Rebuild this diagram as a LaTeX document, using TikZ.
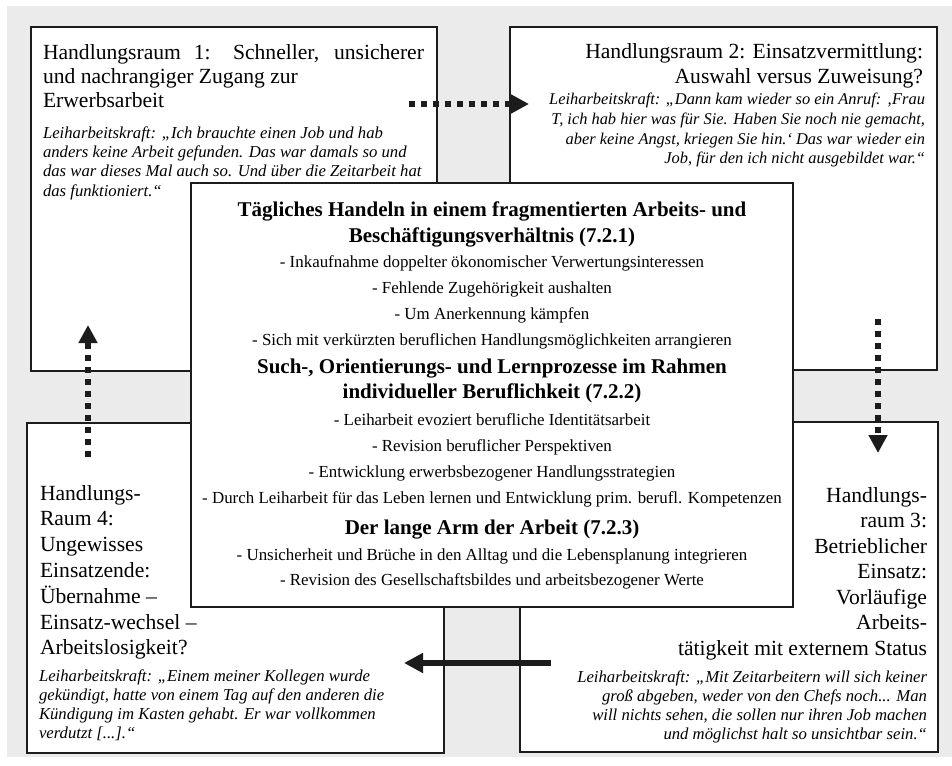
\documentclass[tikz,border=0pt]{standalone}
\usepackage{fontspec}
\setmainfont{Liberation Serif}
\usetikzlibrary{arrows.meta}
\definecolor{bggrey}{HTML}{EBEBEB}
\definecolor{ink}{HTML}{1C1C1C}
\newcommand{\tdots}{...}
\tikzset{
  frame/.style={draw=ink, line width=2.8pt, fill=white, inner sep=0pt, outer sep=0pt, anchor=north west},
  head/.style={font=\fontsize{21.6}{25}\selectfont, inner sep=0pt, outer sep=0pt},
  quote/.style={font=\fontsize{16.7}{19}\selectfont\itshape, inner sep=0pt, outer sep=0pt},
  quotesm/.style={font=\fontsize{16.4}{19}\selectfont\itshape, inner sep=0pt, outer sep=0pt},
  citem/.style={font=\fontsize{16.9}{20}\selectfont, inner sep=0pt, anchor=base},
  cbold/.style={font=\fontsize{21}{26}\selectfont\bfseries, inner sep=0pt, anchor=base},
  dotarrow/.style={draw=ink, line width=6pt, dash pattern=on 6pt off 6pt, -{Triangle[length=18pt,width=18pt]}},
  solidarrow/.style={draw=ink, line width=6.5pt, -{Triangle[length=19pt,width=19pt]}}
}
\begin{document}
\begin{tikzpicture}[x=1pt,y=-1pt]
\useasboundingbox (0,0) rectangle (952,765);
\fill[bggrey] (7,6) rectangle (952,757);
% outer boxes
\node[frame, minimum width=406pt, minimum height=344pt] (b1) at (31,27) {};
\node[frame, minimum width=427pt, minimum height=343pt] (b2) at (510,27) {};
\node[frame, minimum width=418pt, minimum height=330pt] (b3) at (520,422) {};
\node[frame, minimum width=417pt, minimum height=330pt] (b4) at (27,423) {};
% box 1
\foreach \s [count=\i from 0] in {{\makebox[381pt][s]{Handlungsraum 1: Schneller, unsicherer}},
    {und nachrangiger Zugang zur}, {Erwerbsarbeit}}
  \node[head, anchor=base west] (t1-\i) at (43,60+24*\i) {\s};
\foreach \s [count=\i from 0] in {{Leiharbeitskraft: „Ich brauchte einen Job und hab},
    {anders keine Arbeit gefunden. Das war damals so und},
    {das war dieses Mal auch so. Und über die Zeitarbeit hat},
    {das funktioniert.“}}
  \node[quote, anchor=base west] (q1-\i) at (43,138.5+19.2*\i) {\s};
% box 2
\foreach \s [count=\i from 0] in {{Handlungsraum 2: Einsatzvermittlung:}, {Auswahl versus Zuweisung?}}
  \node[head, anchor=base east] (t2-\i) at (923,59+24.5*\i) {\s};
\foreach \s [count=\i from 0] in {{Leiharbeitskraft: „Dann kam wieder so ein Anruf: ‚Frau},
    {T, ich hab hier was für Sie. Haben Sie noch nie gemacht,},
    {aber keine Angst, kriegen Sie hin.‘ Das war wieder ein},
    {Job, für den ich nicht ausgebildet war.“}}
  \node[quotesm, anchor=base east] (q2-\i) at (925,105+19.5*\i) {\s};
% box 3
\foreach \s [count=\i from 0] in {{Handlungs-}, {raum 3:}, {Betrieblicher}, {Einsatz:},
    {Vorläufige}, {Arbeits-}, {tätigkeit mit externem Status}}
  \node[head, anchor=base east] (t3-\i) at (927,502+25.5*\i) {\s};
\foreach \s [count=\i from 0] in {{Leiharbeitskraft: „Mit Zeitarbeitern will sich keiner},
    {groß abgeben, weder von den Chefs noch\tdots{} Man},
    {will nichts sehen, die sollen nur ihren Job machen},
    {und möglichst halt so unsichtbar sein.“}}
  \node[quote, anchor=base east] (q3-\i) at (927,682+19.3*\i) {\s};
% box 4
\foreach \s [count=\i from 0] in {{Handlungs-}, {Raum 4:}, {Ungewisses}, {Einsatzende:},
    {Übernahme –}, {Einsatz-wechsel –}, {Arbeitslosigkeit?}}
  \node[head, anchor=base west] (t4-\i) at (40,500+25.8*\i) {\s};
\foreach \s [count=\i from 0] in {{Leiharbeitskraft: „Einem meiner Kollegen wurde},
    {gekündigt, hatte von einem Tag auf den anderen die},
    {Kündigung im Kasten gehabt. Er war vollkommen},
    {verdutzt [\tdots].“}}
  \node[quote, anchor=base west] (q4-\i) at (39,681+19.1*\i) {\s};
% centre box
\node[frame, minimum width=602pt, minimum height=424pt] (c) at (191,183) {};
\node[cbold] (c1) at (492,216) {Tägliches Handeln in einem fragmentierten Arbeits- und};
\node[cbold] (c2) at (492,242) {Beschäftigungsverhältnis (7.2.1)};
\node[citem] (c3) at (492,267) {- Inkaufnahme doppelter ökonomischer Verwertungsinteressen};
\node[citem] (c4) at (492,293) {- Fehlende Zugehörigkeit aushalten};
\node[citem] (c5) at (492,319) {- Um Anerkennung kämpfen};
\node[citem] (c6) at (492,345) {- Sich mit verkürzten beruflichen Handlungsmöglichkeiten arrangieren};
\node[cbold] (c7) at (492,373) {Such-, Orientierungs- und Lernprozesse im Rahmen};
\node[cbold] (c8) at (492,398) {individueller Beruflichkeit (7.2.2)};
\node[citem] (c9) at (492,425) {- Leiharbeit evoziert berufliche Identitätsarbeit};
\node[citem] (c10) at (492,451) {- Revision beruflicher Perspektiven};
\node[citem] (c11) at (492,477) {- Entwicklung erwerbsbezogener Handlungsstrategien};
\node[citem] (c12) at (492,503) {- Durch Leiharbeit für das Leben lernen und Entwicklung prim. berufl. Kompetenzen};
\node[cbold] (c13) at (492,534) {Der lange Arm der Arbeit (7.2.3)};
\node[citem] (c14) at (492,560) {- Unsicherheit und Brüche in den Alltag und die Lebensplanung integrieren};
\node[citem] (c15) at (492,585) {- Revision des Gesellschaftsbildes und arbeitsbezogener Werte};
% arrows
\coordinate (a1s) at (409,104); \coordinate (a1e) at (529,104);
\coordinate (a2s) at (878,319); \coordinate (a2e) at (878,453);
\coordinate (a3s) at (551,663); \coordinate (a3e) at (404,663);
\coordinate (a4s) at (88,457);  \coordinate (a4e) at (88,325);
\draw[dotarrow] (a1s) -- (a1e);
\draw[dotarrow] (a2s) -- (a2e);
\draw[solidarrow] (a3s) -- (a3e);
\draw[dotarrow] (a4s) -- (a4e);
\end{tikzpicture}
\end{document}
